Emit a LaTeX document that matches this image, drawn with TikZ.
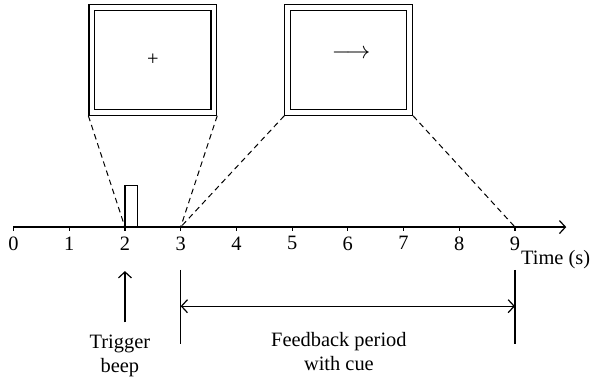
\documentclass[tikz,border=0pt]{standalone}
\usepackage{fontspec}
\setmainfont{Liberation Serif}
\usetikzlibrary{arrows.meta}

\tikzset{
  screen/.style={draw, double, double distance=2.2pt, line width=0.6pt,
    minimum width=61pt, minimum height=52.5pt, inner sep=0pt, outer sep=1.7pt},
  zoomline/.style={dash pattern=on 2.8pt off 2pt, line width=0.5pt},
  timearrow/.style={-{Straight Barb[length=3pt,width=6.5pt]}},
  spanarrow/.style={{Straight Barb[length=3pt,width=6.5pt]}-{Straight Barb[length=3pt,width=6.5pt]}},
}

\begin{document}
\begin{tikzpicture}[x=0.979cm, y=0.979cm, line width=0.6pt, font=\fontsize{10.2}{12}\selectfont]
  \useasboundingbox (-0.242,-2.765) rectangle (10.40,4.075);
  %
  \foreach \i in {0,...,9} {
    \coordinate (t\i) at (\i,0);
    \draw (t\i) -- ++(0,-0.07) node[below, inner sep=2.5pt] (n\i) {\i};
  }
  \coordinate (tend) at (9.92,0);
  \draw[timearrow] (t0) -- (tend);
  \node[anchor=base west, inner sep=0pt] (tlab) at (9.1,-0.68) {Time (s)};
  %
  \draw (t2) -- ++(0,0.74) -| (2.23,0);
  %
  \node[screen] (scr1) at (2.5,3) {+};
  \node[screen] (scr2) at (6.015,3) {};
  \node[font=\fontsize{11.5}{12}\selectfont] (cue) at (6.06,3.1) {$\longrightarrow$};
  %
  \draw[zoomline] (scr1.south west) -- (t2);
  \draw[zoomline] (scr1.south east) -- (t3);
  \draw[zoomline] (scr2.south west) -- (t3);
  \draw[zoomline] (scr2.south east) -- (t9);
  %
  \coordinate (beep) at (2,-0.79);
  \coordinate (beepfoot) at (2,-1.71);
  \draw[timearrow] (beepfoot) -- (beep);
  \node[anchor=north, inner sep=0pt, align=center] (trig) at (1.91,-1.92) {Trigger\\beep};
  %
  \coordinate (fbtop) at (3,-0.77);
  \coordinate (fbfoot) at (3,-2.1);
  \coordinate (fbendtop) at (9,-0.77);
  \coordinate (fbendfoot) at (9,-2.1);
  \draw (fbtop) -- (fbfoot);
  \draw (fbendtop) -- (fbendfoot);
  \coordinate (fbstart) at (3,-1.42);
  \coordinate (fbend) at (9,-1.42);
  \draw[spanarrow] (fbstart) -- (fbend);
  \node[anchor=north, inner sep=0pt, align=center] (fb) at (5.84,-1.87) {Feedback period\\with cue};
\end{tikzpicture}
\end{document}
